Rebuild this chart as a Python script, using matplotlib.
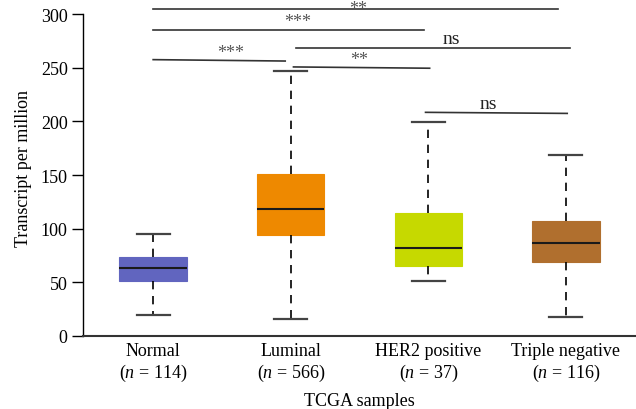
import matplotlib
matplotlib.use("Agg")
import matplotlib.pyplot as plt

plt.rcParams['font.family'] = ['Liberation Serif', 'DejaVu Serif']
plt.rcParams['mathtext.fontset'] = 'custom'
plt.rcParams['mathtext.it'] = 'Liberation Serif:italic'
plt.rcParams['mathtext.rm'] = 'Liberation Serif'

# data
categories = ["Normal", "Luminal", "HER2 positive", "Triple negative"]
counts = [114, 566, 37, 116]
q1 = [51, 94.5, 65.5, 68.5]
medians = [63, 118.5, 82, 86.5]
q3 = [73.5, 150.5, 114.5, 107.5]
whislo = [20, 15.5, 51.5, 17.5]
whishi = [95, 247, 199.5, 169]
colors = ["#6165BF", "#EE8900", "#C6D900", "#B06F2E"]

# significance brackets
sig_x1 = [1.0, 1.0, 2.04, 1.0, 2.02, 2.98]
sig_x2 = [3.94, 2.97, 4.03, 1.96, 3.01, 4.01]
sig_y1 = [305, 285.5, 268, 257.5, 250.7, 208.4]
sig_y2 = [305, 285.5, 268, 256.2, 249.5, 207.4]
sig_labels = ["**", "***", "ns", "***", "**", "ns"]
sig_tx = [2.49, 2.05, 3.17, 1.56, 2.50, 3.44]

fig = plt.figure(figsize=(6.36, 4.10), dpi=100)
ax = fig.add_axes([83/636, 73/410, 1 - 83/636, 1 - 73/410])

positions = list(range(1, len(categories) + 1))
stats = []
for i in range(len(categories)):
    stats.append(dict(med=medians[i], q1=q1[i], q3=q3[i],
                      whislo=whislo[i], whishi=whishi[i], fliers=[]))

bp = ax.bxp(stats, positions=positions, widths=0.49, patch_artist=True,
            showfliers=False,
            whiskerprops=dict(color='black', linestyle=(0, (5, 4)), linewidth=1.2),
            capprops=dict(color='#444444', linewidth=1.6),
            medianprops=dict(color='#1a1a1a', linewidth=1.5),
            boxprops=dict(linewidth=0.8))
for patch, c in zip(bp['boxes'], colors):
    patch.set_facecolor(c)
    patch.set_edgecolor(c)
for cap in bp['caps']:
    xd = cap.get_xdata()
    mid = (xd[0] + xd[1]) / 2
    cap.set_xdata([mid - 0.12, mid + 0.12])

ymax = 314
for x1, x2, y1, y2, lab, tx in zip(sig_x1, sig_x2, sig_y1, sig_y2, sig_labels, sig_tx):
    ax.plot([x1, x2], [y1, y2], color='#333333', linewidth=1.2, clip_on=False)
    ym = (y1 + y2) / 2
    if lab == "ns":
        ax.text(tx, ym + 1.0, lab, ha='center', va='bottom',
                fontsize=14, color='#222222')
    elif ym + 12 > ymax:
        ax.text(tx, ymax - 0.8, lab, ha='center', va='top',
                fontsize=13, color='#555555')
    else:
        ax.text(tx, ym - 0.5, lab, ha='center', va='bottom',
                fontsize=13, color='#555555')

ax.set_xlim(0.49, 4.51)
ax.set_ylim(0, ymax)
ax.set_yticks([0, 50, 100, 150, 200, 250, 300])
ax.spines['left'].set_bounds(0, 300)
ax.spines['top'].set_visible(False)
ax.spines['right'].set_visible(False)
ax.spines['bottom'].set_linewidth(1.5)
ax.spines['bottom'].set_color('#333333')
ax.spines['left'].set_linewidth(1.0)
ax.tick_params(axis='y', direction='out', length=8, width=1.0, labelsize=13, pad=3)
ax.tick_params(axis='x', length=0, labelsize=13, pad=4)
ax.set_xticks(positions)
ax.set_xticklabels([f"{c}\n($n$ = {n})" for c, n in zip(categories, counts)],
                   linespacing=1.25)
ax.set_ylabel("Transcript per million", fontsize=13, labelpad=6)
ax.set_xlabel("TCGA samples", fontsize=13, labelpad=6)

fig.savefig("out.png", dpi=100)
